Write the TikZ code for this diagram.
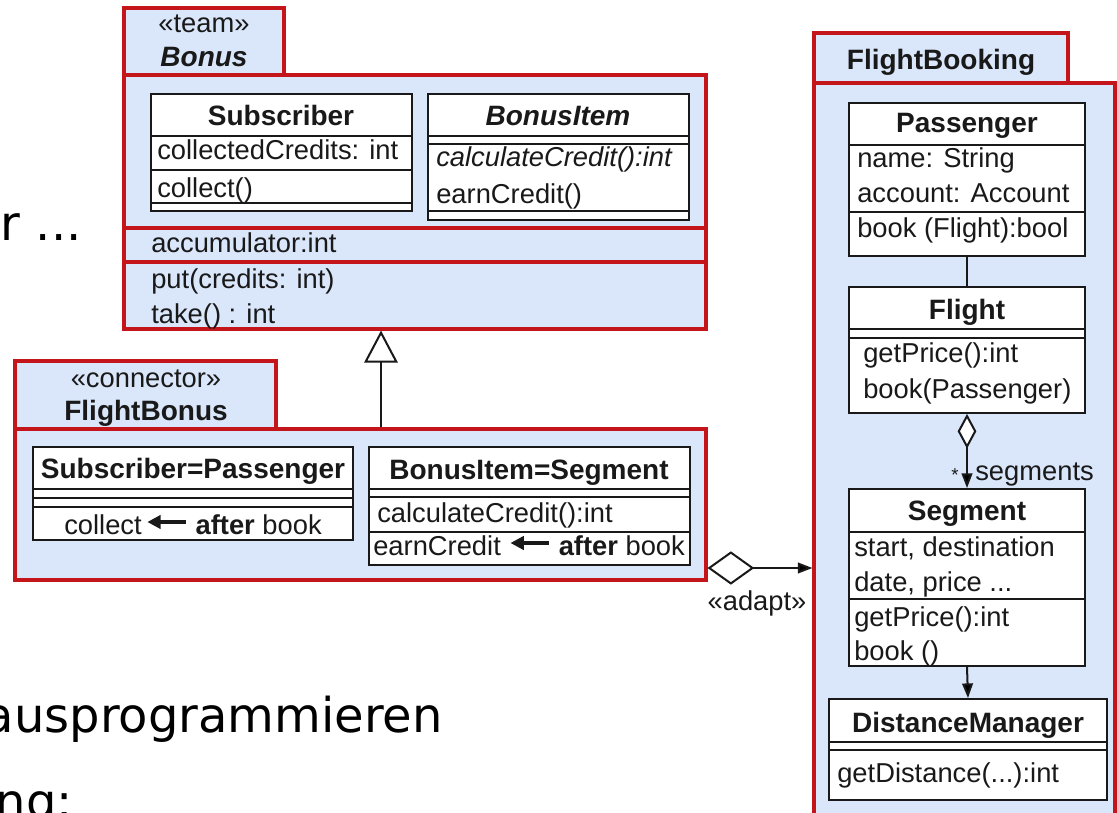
\documentclass[tikz,border=0pt]{standalone}
\usepackage{fontspec}
\newfontfamily\umlfont{Liberation Sans}
\newfontfamily\slidefont{DejaVu Sans}
\usetikzlibrary{arrows.meta,fit}
\definecolor{pkgred}{RGB}{196,22,26}
\definecolor{pkgblue}{RGB}{218,230,250}
\definecolor{ink}{RGB}{25,25,25}
\newcommand\umltxt{\umlfont\fontsize{20.5pt}{24pt}\selectfont}
\newcommand\umlbold{\umlfont\bfseries\fontsize{21pt}{25pt}\selectfont}
\newcommand\slidetxt{\slidefont\fontsize{36pt}{42pt}\selectfont}
% short "<-" arrow used inside the binding rows
\newcommand\afterarrow{\tikz[baseline=-9pt]\draw[ink,line width=2.4pt,{Triangle[length=10pt,width=10pt]}-] (0pt,0pt) -- (29pt,0pt);}
\begin{document}
\begin{tikzpicture}[x=0.75pt,y=-0.75pt,
  umlpkg/.style={draw=pkgred, line width=2.3pt, fill=pkgblue, inner sep=0pt},
  umlcls/.style={draw=ink, line width=1.4pt, fill=white, inner sep=0pt},
  clsrule/.style={draw=ink, line width=1.4pt},
  pkgrule/.style={draw=pkgred, line width=2.3pt},
  umlrow/.style={anchor=base west, inner sep=0pt, font=\umltxt, text=ink},
  umlcap/.style={anchor=base, inner sep=0pt, font=\umltxt, text=ink},
  umlhead/.style={anchor=base, inner sep=0pt, font=\umlbold, text=ink},
  conn/.style={draw=ink, line width=1.5pt},
  slide/.style={anchor=base east, inner sep=0pt, font=\slidetxt, text=black}]

\fill[white] (0,0) rectangle (1117,813);
\useasboundingbox (0,0) rectangle (1117,813);
\clip (0,0) rectangle (1117,813);

% slide text behind the diagram
\node[slide] (s1) at (82,240) {r ...};
\node[slide] (s2) at (443,732) {ausprogrammieren};
\node[slide] (s3) at (73,818) {ng:};

% ---------------- team Bonus ----------------
\node[umlpkg, fit={(124,75) (706,329)}] (bonusbody) {};
\node[umlpkg, fit={(124,8) (284,75)}] (bonustab) {};
\node[umlcap] (bonusst) at (204,33) {«team»};
\node[umlhead] (bonusname) at (204,67) {\itshape Bonus};
\draw[pkgrule] (124,228) -- (706,228);
\draw[pkgrule] (124,262) -- (706,262);
\node[umlrow] (acc) at (151,252) {accumulator:int};
\node[umlrow] (put) at (151,288) {put(credits: int)};
\node[umlrow] (take) at (151,323) {take() : int};

% Subscriber
\node[umlcls, fit={(151,94) (412,211)}] (subscriber) {};
\draw[clsrule] (151,136) -- (412,136);
\draw[clsrule] (151,170) -- (412,170);
\draw[clsrule] (151,203) -- (412,203);
\node[umlhead] (subh) at (281,126) {Subscriber};
\node[umlrow] (subattr) at (157,160) {collectedCredits: int};
\node[umlrow] (subop) at (157,197) {collect()};

% BonusItem
\node[umlcls, fit={(428,94) (689,220)}] (bonusitem) {};
\draw[clsrule] (428,136) -- (689,136);
\draw[clsrule] (428,144) -- (689,144);
\draw[clsrule] (428,211) -- (689,211);
\node[umlhead] (bih) at (558,126) {\itshape BonusItem};
\node[umlrow] (biop1) at (436,167) {\itshape calculateCredit():int};
\node[umlrow] (biop2) at (436,204) {earnCredit()};

% ---------------- connector FlightBonus ----------------
\node[umlpkg, fit={(15,429) (706,580)}] (fbbody) {};
\node[umlpkg, fit={(15,361) (276,429)}] (fbtab) {};
\node[umlcap] (fbst) at (146,387) {«connector»};
\node[umlhead] (fbname) at (146,420) {FlightBonus};

% Subscriber=Passenger
\node[umlcls, fit={(33,447) (353,540)}] (subpas) {};
\draw[clsrule] (33,489) -- (353,489);
\draw[clsrule] (33,498) -- (353,498);
\draw[clsrule] (33,507) -- (353,507);
\node[umlhead] (sph) at (193,478) {Subscriber=Passenger};
\node[umlcap] (spop) at (193,534) {collect\hspace{3pt}\afterarrow\hspace{6pt}\textbf{after} book};

% BonusItem=Segment
\node[umlcls, fit={(369,447) (690,565)}] (biseg) {};
\draw[clsrule] (369,489) -- (690,489);
\draw[clsrule] (369,497) -- (690,497);
\draw[clsrule] (369,532) -- (690,532);
\node[umlhead] (bsh) at (529,479) {BonusItem=Segment};
\node[umlrow] (bsop1) at (377,522) {calculateCredit():int};
\node[umlrow] (bsop2) at (373,555) {earnCredit\hspace{6pt}\afterarrow\hspace{6pt}\textbf{after} book};

% ---------------- FlightBooking ----------------
\node[umlpkg, fit={(814,83) (1115,840)}] (fbkbody) {};
\node[umlpkg, fit={(814,33) (1068,83)}] (fbktab) {};
\node[umlhead] (fbkname) at (941,70) {FlightBooking};

% Passenger
\node[umlcls, fit={(849,103) (1085,256)}] (passenger) {};
\draw[clsrule] (849,145) -- (1085,145);
\draw[clsrule] (849,212) -- (1085,212);
\node[umlhead] (pash) at (967,133) {Passenger};
\node[umlrow] (pas1) at (857,168) {name: String};
\node[umlrow] (pas2) at (857,203) {account: Account};
\node[umlrow] (pas3) at (857,238) {book (Flight):bool};

% Flight
\node[umlcls, fit={(849,287) (1085,413)}] (flight) {};
\draw[clsrule] (849,329) -- (1085,329);
\draw[clsrule] (849,338) -- (1085,338);
\node[umlhead] (flh) at (967,319) {Flight};
\node[umlrow] (fl1) at (863,362) {getPrice():int};
\node[umlrow] (fl2) at (863,398) {book(Passenger)};

% Segment
\node[umlcls, fit={(849,489) (1085,666)}] (segment) {};
\draw[clsrule] (849,532) -- (1085,532);
\draw[clsrule] (849,599) -- (1085,599);
\node[umlhead] (segh) at (967,520) {Segment};
\node[umlrow] (seg1) at (854,556) {start, destination};
\node[umlrow] (seg2) at (854,591) {date, price ...};
\node[umlrow] (seg3) at (854,626) {getPrice():int};
\node[umlrow] (seg4) at (854,660) {book ()};

% DistanceManager
\node[umlcls, fit={(829,699) (1107,800)}] (distman) {};
\draw[clsrule] (829,742) -- (1107,742);
\draw[clsrule] (829,750) -- (1107,750);
\node[umlhead] (dmh) at (968,732) {DistanceManager};
\node[umlrow] (dm1) at (837,782) {getDistance(...):int};

% ---------------- connectors ----------------
\coordinate (genx) at (381,0);
\draw[conn, -{Triangle[open, fill=white, length=24pt, width=25pt]}]
  (fbbody.north -| genx) -- (bonusbody.south -| genx);

\coordinate (adapty) at (0,568);
\draw[conn, {Diamond[open, fill=white, length=35pt, width=25pt]}-{Triangle[length=11pt, width=8pt]}]
  (fbbody.east |- adapty) -- (fbkbody.west |- adapty);
\node[umlcap] (adapt) at (757,610) {«adapt»};

\draw[conn] (passenger.south) -- (flight.north);
\draw[conn, {Diamond[open, fill=white, length=26pt, width=14pt]}-{Triangle[length=11pt, width=8pt]}]
  (flight.south) -- (segment.north);
\node[anchor=base, inner sep=0pt, text=ink, font=\umlfont\fontsize{14pt}{16pt}\selectfont] (mult) at (955,481) {*};
\node[umlrow] (role) at (975,480) {segments};

\draw[conn, -{Triangle[length=11pt, width=8pt]}] (segment.south) -- (distman.north);
\end{tikzpicture}
\end{document}
